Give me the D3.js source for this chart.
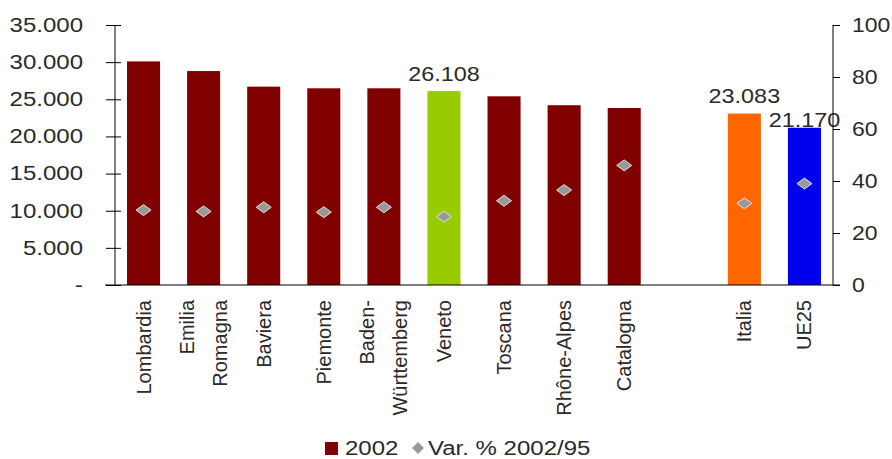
<!DOCTYPE html>
<html>
<head>
<meta charset="utf-8">
<script src="https://cdn.jsdelivr.net/npm/d3@7"></script>
<style>
  body { margin: 0; background: #fff; }
  text { font-family: "Liberation Sans", Arial, sans-serif; fill: #2a2a2a; }
</style>
</head>
<body>
<div id="chart"></div>
<script>
// data
const categories = ["Lombardia", "Emilia\nRomagna", "Baviera", "Piemonte", "Baden-\nWürttemberg",
                    "Veneto", "Toscana", "Rhône-Alpes", "Catalogna", "", "Italia", "UE25"];
const values2002 = [30100, 28800, 26700, 26480, 26480, 26108, 25400, 24200, 23830, null, 23083, 21170];
const varPct     = [28.8, 28.3, 29.9, 28.0, 29.9, 26.3, 32.4, 36.5, 46.0, null, 31.4, 39.0];
const leftTicks  = [0, 5000, 10000, 15000, 20000, 25000, 30000, 35000];
const rightTicks = [0, 20, 40, 60, 80, 100];
const labelled   = ["Veneto", "Italia", "UE25"];

const barColor = {Veneto: "#99cc00", Italia: "#ff6600", UE25: "#0000f0"};
const labelGap = {Veneto: 10, Italia: 11, UE25: 1};

const W = 892, H = 459;
const margin = {top: 25, right: 59, bottom: 174, left: 115},
      width = W - margin.left - margin.right,
      height = H - margin.top - margin.bottom;

const it = d3.formatLocale({decimal: ",", thousands: ".", grouping: [3], currency: ["€", ""]});
const fmt = it.format(",.0f");

// the original text is drawn a bit wider than normal
function widen(sel, k) {
  sel.each(function() {
    const l = this.getComputedTextLength();
    d3.select(this).attr("textLength", l * k).attr("lengthAdjust", "spacingAndGlyphs");
  });
}

const svg = d3.select("#chart").append("svg")
    .attr("width", W).attr("height", H)
  .append("g")
    .attr("transform", `translate(${margin.left},${margin.top})`);

const data = categories.map((c, i) => ({key: "k" + i, name: c, v: values2002[i], p: varPct[i]}));

const x = d3.scaleBand()
  .domain(data.map(d => d.key))
  .range([0, width])
  .paddingInner(0.45)
  .paddingOuter(0.2);

const y = d3.scaleLinear().domain([0, 35000]).range([height, 0]);
const y2 = d3.scaleLinear().domain([0, 100]).range([height, 0]);

// bars
const real = data.filter(d => d.v != null);
svg.selectAll("rect.bar")
  .data(real)
  .join("rect")
    .attr("class", "bar")
    .attr("x", d => x(d.key))
    .attr("width", x.bandwidth())
    .attr("y", d => y(d.v))
    .attr("height", d => height - y(d.v))
    .attr("fill", d => barColor[d.name] || "#800000");

// value labels
svg.selectAll("text.vl")
  .data(real.filter(d => labelled.includes(d.name)))
  .join("text")
    .attr("class", "vl")
    .attr("x", d => x(d.key) + x.bandwidth() / 2)
    .attr("y", d => y(d.v) - labelGap[d.name])
    .attr("text-anchor", "middle")
    .style("font-size", "20px")
    .text(d => fmt(d.v))
    .call(widen, 1.17);

// left axis
const gl = svg.append("g")
  .call(d3.axisLeft(y).tickValues(leftTicks).tickSize(9).tickPadding(23)
    .tickFormat(d => d === 0 ? "-" : fmt(d)));
gl.select(".domain").attr("d", `M0,0V${height}`).attr("stroke", "#000");
gl.selectAll(".tick line").attr("x1", 6).attr("stroke", "#000");
gl.selectAll("text").style("font-size", "20px").style("fill", "#2a2a2a").attr("font-family", null)
  .call(widen, 1.2);

// right axis
const gr = svg.append("g")
  .attr("transform", `translate(${width},0)`)
  .call(d3.axisRight(y2).tickValues(rightTicks).tickSize(7).tickPadding(12));
gr.select(".domain").attr("d", `M0,0V${height}`).attr("stroke", "#000");
gr.selectAll(".tick line").attr("stroke", "#000");
gr.selectAll("text").style("font-size", "20px").style("fill", "#2a2a2a").attr("font-family", null)
  .call(widen, 1.15);

// baseline
svg.append("line")
  .attr("x1", -10).attr("x2", width + 7)
  .attr("y1", height).attr("y2", height)
  .attr("stroke", "#000");

// category labels
const cl = svg.selectAll("g.cl")
  .data(real)
  .join("g")
    .attr("class", "cl")
    .attr("transform", d => `translate(${x(d.key) + x.bandwidth() / 2},${height + 15}) rotate(-90)`);
cl.each(function(d) {
  const lines = d.name.split("\n");
  const g = d3.select(this);
  lines.forEach((ln, i) => {
    g.append("text")
      .attr("x", 0)
      .attr("y", (i - (lines.length - 1) / 2) * 33)
      .attr("dy", "0.35em")
      .attr("text-anchor", "end")
      .style("font-size", "20px")
      .text(ln);
  });
});

// diamonds
svg.selectAll("path.dm")
  .data(real)
  .join("path")
    .attr("class", "dm")
    .attr("transform", d => `translate(${x(d.key) + x.bandwidth() / 2},${y2(d.p)})`)
    .attr("d", "M-7.5,0L0,-5.5L7.5,0L0,5.5Z")
    .attr("fill", "#999999")
    .attr("stroke", "#e0e0e0")
    .attr("stroke-width", 1);

// legend
const lg = svg.append("g").attr("transform", `translate(0,${height + 163})`);
lg.append("rect").attr("x", 210).attr("y", -6).attr("width", 13).attr("height", 13).attr("fill", "#800000");
lg.append("text").attr("x", 230).attr("y", 0).attr("dy", "0.35em").style("font-size", "20px").text("2002")
  .call(widen, 1.2);
lg.append("path").attr("transform", "translate(303,0)").attr("d", "M-6,0L0,-6L6,0L0,6Z").attr("fill", "#999999");
lg.append("text").attr("x", 313).attr("y", 0).attr("dy", "0.35em").style("font-size", "20px").text("Var. % 2002/95")
  .call(widen, 1.2);
</script>
</body>
</html>
